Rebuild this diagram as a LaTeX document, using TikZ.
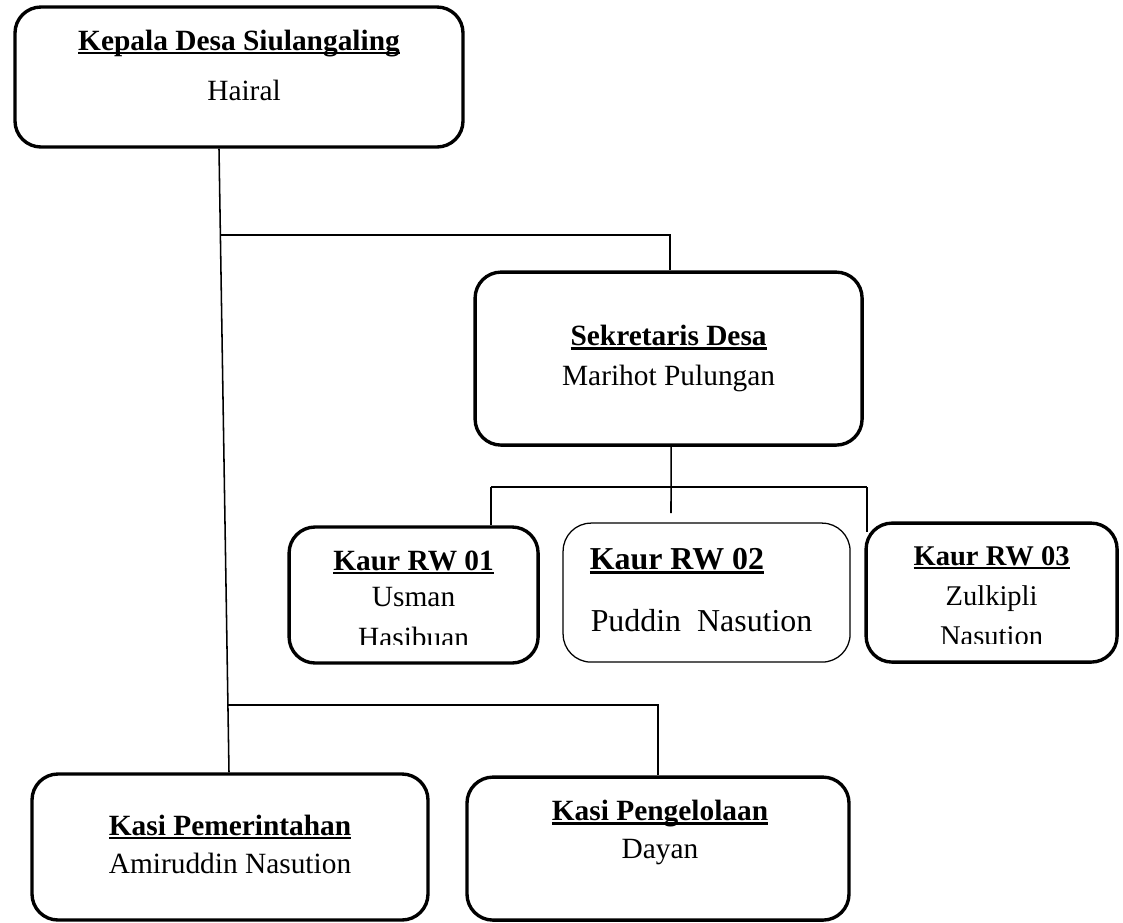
\documentclass[tikz,border=0pt]{standalone}
\usepackage{fontspec}
\setmainfont{Liberation Serif}
\usepackage{tikz}
\usetikzlibrary{shapes.geometric, arrows}
\newcommand{\ulin}[1]{\setbox0\hbox{#1}\rlap{\rule[-0.14em]{\wd0}{0.08em}}\box0}
\tikzstyle{boxthick} = [rectangle, rounded corners=0.65cm, draw=black, line width=2.4pt]
\tikzstyle{boxthin} = [rectangle, rounded corners=0.7cm, draw=black, line width=0.9pt]
\tikzstyle{headtext} = [inner sep=0pt, anchor=base, font=\fontsize{20.9}{25}\selectfont\bfseries]
\tikzstyle{nametext} = [inner sep=0pt, anchor=base, font=\fontsize{20.9}{25}\selectfont]
\tikzstyle{conn} = [line width=1.1pt]

\begin{document}
\begin{tikzpicture}[]
\useasboundingbox (0,0) rectangle (28.075,-23.05);
\node (kepala) [boxthick, minimum width=11.2cm, minimum height=3.5cm] at (5.975,-1.925) {};
\node (sekre) [boxthick, minimum width=9.675cm, minimum height=4.325cm, right of=kepala, xshift=9.74cm, yshift=-7.04cm] {};
\node (rw1) [boxthick, minimum width=6.225cm, minimum height=3.4cm, below of=sekre, xshift=-6.375cm, yshift=-4.91cm] {};
\node (rw2) [boxthin, minimum width=7.175cm, minimum height=3.475cm, right of=rw1, xshift=6.325cm, yshift=0.06cm] {};
\node (rw3) [boxthick, minimum width=6.275cm, minimum height=3.475cm, right of=rw2, xshift=6.125cm] {};
\node (kasip) [boxthick, minimum width=9.9cm, minimum height=3.65cm, below of=kepala, xshift=-0.225cm, yshift=-18.25cm] {};
\node (kasig) [boxthick, minimum width=9.55cm, minimum height=3.575cm, right of=kasip, xshift=9.7cm, yshift=-0.04cm] {};

% texts
\node (kepalaA) [headtext] at ([yshift=-1.125cm]kepala.north) {\ulin{Kepala Desa Siulangaling}};
\node (kepalaB) [nametext] at ([xshift=0.125cm, yshift=-2.375cm]kepala.north) {Hairal};
\node (sekreA) [headtext] at ([yshift=-1.875cm]sekre.north) {\ulin{Sekretaris Desa}};
\node (sekreB) [nametext] at ([yshift=-2.875cm]sekre.north) {Marihot Pulungan};
\node (rw1A) [headtext] at ([yshift=-1.125cm]rw1.north) {\ulin{Kaur RW 01}};
\node (rw1B) [nametext] at ([yshift=-2.025cm]rw1.north) {Usman};
\begin{scope}
\clip (rw1.north west) rectangle ([yshift=-2.975cm]rw1.north east);
\node (rw1C) [nametext] at ([yshift=-3.05cm]rw1.north) {Hasibuan};
\end{scope}
\node (rw2A) [headtext, anchor=base west, font=\fontsize{22.7}{27}\selectfont\bfseries] at ([xshift=0.675cm, yshift=-1.175cm]rw2.north west) {\ulin{Kaur RW 02}};
\node (rw2B) [nametext, anchor=base west, font=\fontsize{22.7}{27}\selectfont] at ([xshift=0.7cm, yshift=-2.725cm]rw2.north west) {Puddin\ \ Nasution};
\node (rw3A) [headtext, font=\fontsize{20.3}{24}\selectfont\bfseries] at ([yshift=-1.1cm]rw3.north) {\ulin{Kaur RW 03}};
\node (rw3B) [nametext, font=\fontsize{20.3}{24}\selectfont] at ([yshift=-2.1cm]rw3.north) {Zulkipli};
\begin{scope}
\clip (rw3.north west) rectangle ([yshift=-3.05cm]rw3.north east);
\node (rw3C) [nametext, font=\fontsize{20.3}{24}\selectfont] at ([yshift=-3.1cm]rw3.north) {Nasution};
\end{scope}
\node (kasipA) [headtext] at ([yshift=-1.575cm]kasip.north) {\ulin{Kasi Pemerintahan}};
\node (kasipB) [nametext] at ([yshift=-2.525cm]kasip.north) {Amiruddin Nasution};
\node (kasigA) [headtext] at ([xshift=0.05cm, yshift=-1.125cm]kasig.north) {\ulin{Kasi Pengelolaan}};
\node (kasigB) [nametext] at ([xshift=0.05cm, yshift=-2.075cm]kasig.north) {Dayan};

% connectors
\coordinate (j1) at (5.52,-5.875);
\coordinate (j2) at (5.7,-17.625);
\coordinate (b1) at (12.275,-12.175);
\coordinate (b3) at (21.675,-12.175);
\coordinate (tk) at (16.775,-12.825);
\coordinate (d3) at (21.675,-13.3);
\draw[conn] ([xshift=-0.5cm]kepala.south) -- ([xshift=-0.025cm]kasip.north);
\draw[conn] (j1) -| ([xshift=0.04cm]sekre.north);
\draw[conn] ([xshift=0.0625cm]sekre.south) -- (tk);
\draw[conn] (b1) -- (b3);
\draw[conn] (b1) -- (b1 |- rw1.north);
\draw[conn] (b3) -- (d3);
\draw[conn] (j2) -| (kasig.north);
\end{tikzpicture}
\end{document}
